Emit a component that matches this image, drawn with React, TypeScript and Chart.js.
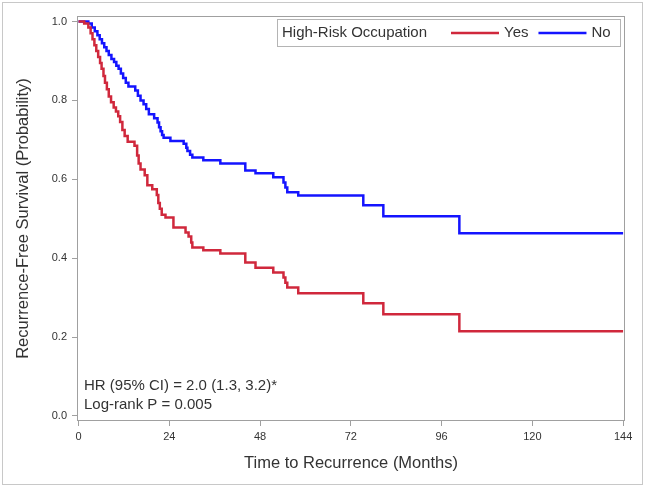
import React, { useEffect, useRef } from "react";
import { Chart, registerables } from "chart.js";

Chart.register(...registerables);

// ---- Data ----
const yesTimes = [
  0, 1.5, 2.6, 3.2, 3.7, 4.2, 4.7, 5.2, 5.7, 6.1, 6.6, 7.0, 7.5, 8.0, 8.6, 9.3, 9.9, 10.5, 11.0, 11.6,
  12.2, 13.0, 14.8, 15.5, 15.9, 16.4, 17.5, 18.2, 19.5, 20.7, 21.1, 21.5, 22.0, 23.0, 25.1, 28.3, 29.1,
  29.8, 30.1, 33.0, 37.5, 44.1, 46.8, 51.5, 54.2, 54.7, 55.2, 58.1, 75.3, 80.6, 100.7, 144,
];
const yesSurvival = [
  1.0, 0.995, 0.985, 0.97, 0.955, 0.94, 0.925, 0.91, 0.895, 0.88, 0.862, 0.845, 0.828, 0.81, 0.795, 0.782,
  0.772, 0.76, 0.745, 0.725, 0.71, 0.695, 0.685, 0.66, 0.64, 0.625, 0.61, 0.585, 0.575, 0.56, 0.54, 0.525,
  0.51, 0.503, 0.478, 0.465, 0.455, 0.44, 0.427, 0.42, 0.412, 0.389, 0.376, 0.364, 0.351, 0.338, 0.326,
  0.311, 0.286, 0.258, 0.215, 0.215,
];
const noTimes = [
  0, 2.6, 3.5, 4.3, 5.0, 5.6, 6.2, 6.8, 7.4, 8.0, 8.7, 9.4, 10.0, 10.6, 11.2, 11.8, 12.5, 13.2, 15.0, 15.7,
  16.4, 17.2, 17.9, 18.6, 20.0, 20.9, 21.3, 21.7, 22.1, 22.5, 24.3, 27.8, 28.5, 28.8, 29.5, 30.1, 33.0,
  37.5, 44.1, 46.8, 51.5, 54.2, 54.7, 55.2, 58.1, 75.3, 80.6, 100.7, 144,
];
const noSurvival = [
  1.0, 0.995, 0.985, 0.975, 0.965, 0.955, 0.945, 0.935, 0.925, 0.915, 0.905, 0.897, 0.888, 0.88, 0.868,
  0.857, 0.845, 0.835, 0.825, 0.812, 0.8, 0.79, 0.778, 0.765, 0.755, 0.744, 0.732, 0.722, 0.712, 0.705,
  0.697, 0.69, 0.68, 0.672, 0.662, 0.655, 0.648, 0.64, 0.622, 0.615, 0.605, 0.592, 0.579, 0.567, 0.559,
  0.534, 0.506, 0.463, 0.463,
];
const seriesLabels = ["Yes", "No"];
const seriesColors = ["#d0283c", "#1414ff"];
const xTickValues = [0, 24, 48, 72, 96, 120, 144];
const yTickValues = [0, 0.2, 0.4, 0.6, 0.8, 1.0];
const legendTitle = "High-Risk Occupation";
const statLines = ["HR (95% CI) = 2.0 (1.3, 3.2)*", "Log-rank P = 0.005"];
const xTitle = "Time to Recurrence (Months)";
const yTitle = "Recurrence-Free Survival (Probability)";

const FONT = "'Liberation Sans', Arial, sans-serif";
const TEXT = "#333333";
const FRAME = "#a0a0a0";

const decorPlugin = {
  id: "decor",
  beforeDraw(chart: any) {
    const { ctx, width, height } = chart;
    ctx.save();
    ctx.fillStyle = "#ffffff";
    ctx.fillRect(0, 0, width, height);
    ctx.strokeStyle = "#c8c8c8";
    ctx.lineWidth = 1;
    ctx.strokeRect(2.5, 2.5, width - 5, height - 4);
    ctx.restore();
  },
  afterDraw(chart: any) {
    const { ctx, chartArea } = chart;
    ctx.save();
    // plot frame
    ctx.strokeStyle = FRAME;
    ctx.lineWidth = 1;
    ctx.strokeRect(
      Math.round(chartArea.left) + 0.5,
      Math.round(chartArea.top) + 0.5,
      Math.round(chartArea.right - chartArea.left) - 1,
      Math.round(chartArea.bottom - chartArea.top) - 1
    );
    // legend
    const lx = 277.5, ly = 19.5, lw = 343, lh = 27;
    ctx.strokeStyle = "#b4b4b4";
    ctx.strokeRect(lx, ly, lw, lh);
    ctx.font = `15px ${FONT}`;
    ctx.fillStyle = TEXT;
    ctx.textBaseline = "middle";
    ctx.textAlign = "left";
    const cy = 33;
    ctx.fillText(legendTitle, 282, cy);
    const items = chart.data.datasets.map((d: any) => ({ label: d.label, color: d.borderColor }));
    let x = 451;
    items.forEach((it: any) => {
      ctx.strokeStyle = it.color;
      ctx.lineWidth = 2.5;
      ctx.beginPath();
      ctx.moveTo(x, cy);
      ctx.lineTo(x + 48, cy);
      ctx.stroke();
      ctx.fillStyle = TEXT;
      ctx.fillText(it.label, x + 53, cy);
      x += 53 + ctx.measureText(it.label).width + 10;
    });
    // statistics text
    ctx.fillStyle = TEXT;
    statLines.forEach((s, i) => ctx.fillText(s, 84, 386 + i * 19));
    ctx.restore();
  },
};

export default function App() {
  const ref = useRef<HTMLCanvasElement | null>(null);
  useEffect(() => {
    if (!ref.current) return;
    const mk = (times: number[], surv: number[]) => times.map((t, i) => ({ x: t, y: surv[i] }));
    const chart = new Chart(ref.current, {
      type: "line",
      data: {
        datasets: [
          {
            label: seriesLabels[0],
            data: mk(yesTimes, yesSurvival),
            borderColor: seriesColors[0],
            backgroundColor: seriesColors[0],
            borderWidth: 2.5,
            stepped: "before",
            pointRadius: 0,
            fill: false,
          },
          {
            label: seriesLabels[1],
            data: mk(noTimes, noSurvival),
            borderColor: seriesColors[1],
            backgroundColor: seriesColors[1],
            borderWidth: 2.5,
            stepped: "before",
            pointRadius: 0,
            fill: false,
          },
        ],
      },
      options: {
        animation: false,
        responsive: false,
        maintainAspectRatio: false,
        devicePixelRatio: 1,
        layout: { padding: { left: 0, right: 20, top: 16, bottom: 0 } },
        plugins: { legend: { display: false }, tooltip: { enabled: false } },
        scales: {
          x: {
            type: "linear",
            min: -0.4,
            max: 144.5,
            afterFit: (s: any) => { s.height = 65; },
            afterBuildTicks: (s: any) => { s.ticks = xTickValues.map((v) => ({ value: v })); },
            grid: { display: true, drawOnChartArea: false, drawTicks: true, tickLength: 5, color: FRAME },
            border: { display: false },
            ticks: { color: TEXT, font: { family: FONT, size: 11 }, padding: 4, maxRotation: 0, autoSkip: false },
            title: { display: true, text: xTitle, color: TEXT, font: { family: FONT, size: 16.5 }, padding: { top: 0, bottom: 13 } },
          },
          y: {
            type: "linear",
            min: -0.0127,
            max: 1.0139,
            afterFit: (s: any) => { s.width = 77; },
            afterBuildTicks: (s: any) => { s.ticks = yTickValues.map((v) => ({ value: v })); },
            grid: { display: true, drawOnChartArea: false, drawTicks: true, tickLength: 5, color: FRAME },
            border: { display: false },
            ticks: {
              color: TEXT,
              font: { family: FONT, size: 11 },
              padding: 5,
              autoSkip: false,
              callback: (v: any) => Number(v).toFixed(1),
            },
            title: { display: true, text: yTitle, color: TEXT, font: { family: FONT, size: 16.5 }, padding: { top: 14, bottom: 0 } },
          },
        },
      },
      plugins: [decorPlugin],
    });
    return () => chart.destroy();
  }, []);
  return (
    <div style={{ position: "absolute", left: 0, top: 0, width: 645, height: 486 }}>
      <canvas ref={ref} width={645} height={486} style={{ width: 645, height: 486, display: "block" }} />
    </div>
  );
}
